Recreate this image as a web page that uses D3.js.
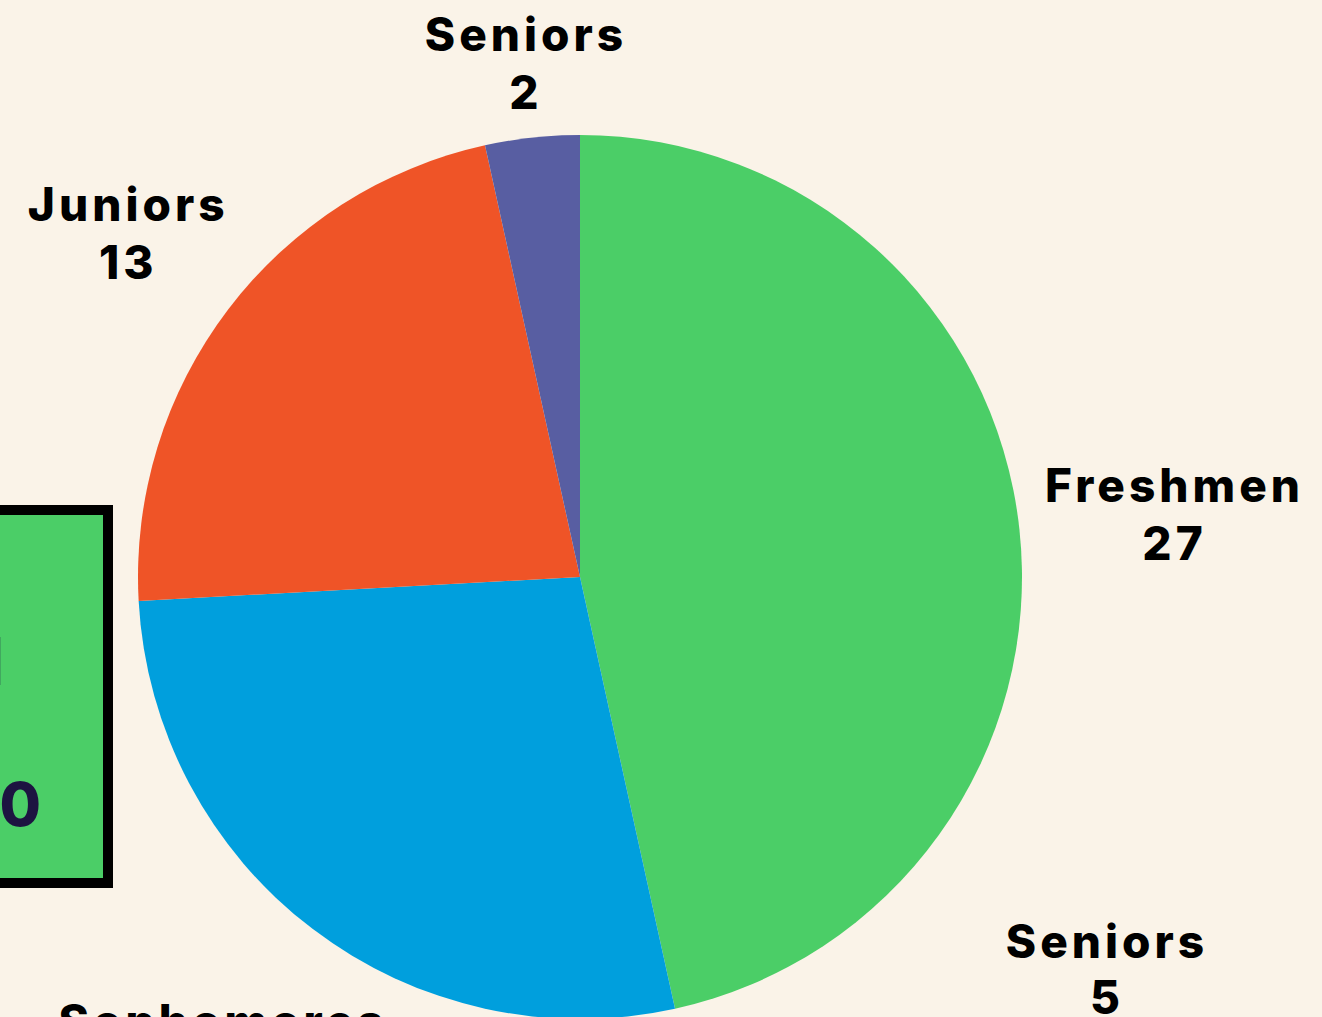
<!DOCTYPE html>
<html>
<head>
<meta charset="utf-8">
<script src="https://cdn.jsdelivr.net/npm/d3@7"></script>
<style>
  body { margin: 0; background: #faf3e8; overflow: hidden; }
  text { font-family: Inter, "Open Sans", sans-serif; font-weight: 800; }
  .label text, .note text { letter-spacing: 4px; }
</style>
</head>
<body>
<div id="chart"></div>
<script>
// data
const categories = ["Freshmen", "Sophomores", "Juniors", "Seniors"];
const counts = [27, 16, 13, 2];
const sliceColors = ["#4bce67", "#009fdd", "#ef5427", "#585ea2"];
// how far out each label sits (px from centre)
const labelRadius = [596, 593, 570, 518];

// stray label at lower right
const noteLabel = {name: "Seniors", value: 5};
// clipped box at left edge
const boxLines = ["Total", "60"];

let width = 1322, height = 1017;
let cx = 580, cy = 577, radius = 442;

let svg = d3.select("#chart").append("svg")
    .attr("width", width)
    .attr("height", height);

svg.append("rect")
    .attr("width", width)
    .attr("height", height)
    .attr("fill", "#faf3e8");

// box on the left, mostly off screen
let box = svg.append("g").attr("class", "box");
box.append("rect")
    .attr("x", -60)
    .attr("y", 510)
    .attr("width", 168)
    .attr("height", 373)
    .attr("fill", "#4bce67")
    .attr("stroke", "#000")
    .attr("stroke-width", 10);
box.append("text")
    .attr("x", 4).attr("y", 685)
    .attr("text-anchor", "end")
    .attr("font-size", 66)
    .attr("fill", "#1d1441")
    .text(boxLines[0]);
box.append("text")
    .attr("x", 41).attr("y", 826)
    .attr("text-anchor", "end")
    .attr("font-size", 60)
    .attr("fill", "#1d1441")
    .text(boxLines[1]);

let pieData = categories.map((c, i) => ({name: c, value: counts[i], i: i}));

let pie = d3.pie()
    .value(d => d.value)
    .sort(null);

let arc = d3.arc()
    .innerRadius(0)
    .outerRadius(radius);

let g = svg.append("g")
    .attr("transform", `translate(${cx}, ${cy})`);

let arcs = pie(pieData);

g.selectAll(".slice")
    .data(arcs)
    .enter()
    .append("path")
    .attr("class", "slice")
    .attr("d", arc)
    .attr("fill", d => sliceColors[d.data.i]);

// labels
let labels = g.selectAll(".label")
    .data(arcs)
    .enter()
    .append("g")
    .attr("class", "label")
    .attr("transform", d => {
        let r = labelRadius[d.data.i];
        let a = (d.startAngle + d.endAngle) / 2;
        return `translate(${r * Math.sin(a) + 2}, ${-r * Math.cos(a)})`;
    });

labels.append("text")
    .attr("text-anchor", "middle")
    .attr("y", -11)
    .attr("font-size", 46)
    .attr("fill", "#000")
    .text(d => d.data.name);

labels.append("text")
    .attr("text-anchor", "middle")
    .attr("y", 47)
    .attr("font-size", 46)
    .attr("fill", "#000")
    .text(d => d.data.value);

// extra label at lower right
let note = svg.append("g")
    .attr("class", "note")
    .attr("transform", `translate(1107, 969)`);
note.append("text")
    .attr("text-anchor", "middle")
    .attr("y", -11)
    .attr("font-size", 46)
    .text(noteLabel.name);
note.append("text")
    .attr("text-anchor", "middle")
    .attr("y", 45)
    .attr("font-size", 46)
    .text(noteLabel.value);
</script>
</body>
</html>
